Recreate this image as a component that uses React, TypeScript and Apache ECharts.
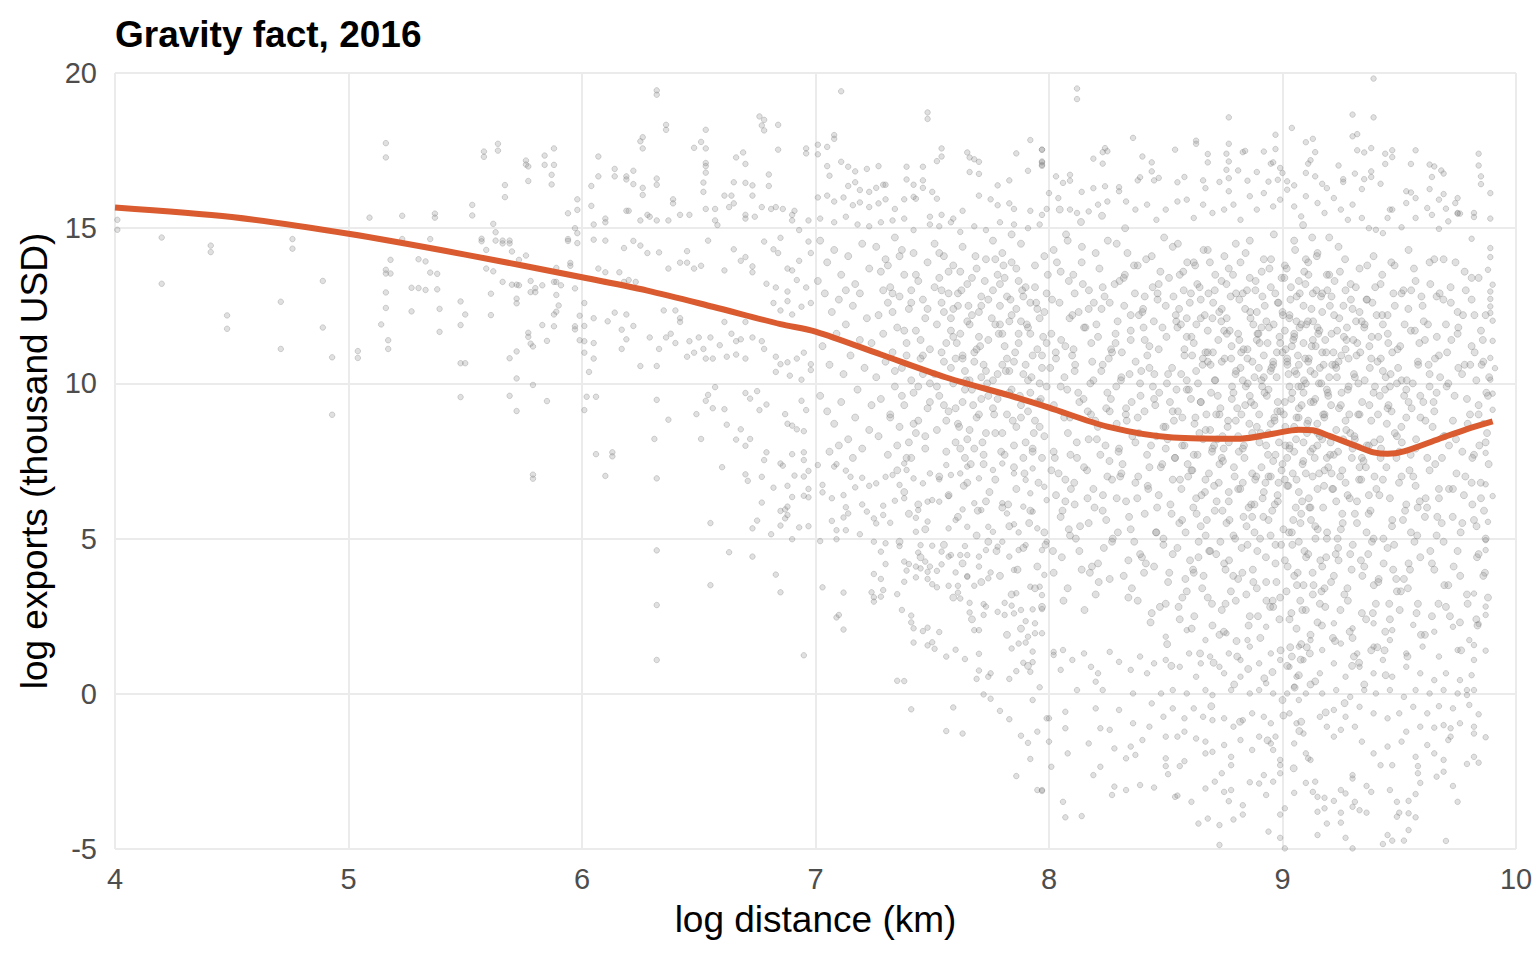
import React, { useEffect, useRef } from "react";
import * as echarts from "echarts";

// ---- data ----
const near4to6: number[][] = [
  [4.01,15.27],[4.01,14.95],[4.20,14.70],[4.20,13.21],[4.41,14.44],[4.41,14.23],[4.48,12.19],[4.48,11.76],[4.71,12.63],[4.71,11.11],[4.76,14.65],[4.76,14.34],[4.89,13.30],[4.89,11.80],[4.93,10.84],[4.93,8.99],[5.04,11.04],[5.04,10.82],[5.09,15.34],[5.14,11.90],[5.16,17.74],[5.16,17.28],[5.16,13.66],[5.16,13.54],[5.18,13.54],[5.18,13.98],[5.16,12.93],[5.16,12.43],[5.17,11.39],[5.17,11.11],[5.23,15.40],[5.23,14.65],[5.27,13.08],[5.27,12.32],[5.30,14.0],[5.30,13.07],[5.33,13.93],[5.33,13.01],[5.35,14.65],[5.35,13.57],[5.37,15.47],[5.37,15.34],[5.38,13.53],[5.38,13.03],[5.39,12.40],[5.39,11.66],[5.48,12.64],[5.48,11.88],[5.48,10.65],[5.50,10.65],[5.48,9.56],[5.50,12.22],[5.53,15.75],[5.53,15.41],[5.57,14.66],[5.57,14.58],[5.58,17.47],[5.58,17.30],[5.59,14.30],[5.59,13.70],[5.61,12.89],[5.61,12.20],[5.62,15.14],[5.63,14.87],[5.62,13.61],[5.63,14.60],[5.64,17.72],[5.64,17.50],[5.66,14.60],[5.66,14.51],[5.69,14.60],[5.69,14.51],[5.66,13.27],[5.67,16.39],[5.67,16.0],[5.69,10.81],[5.69,9.60],[5.70,14.25],[5.70,13.18],[5.72,13.18],[5.73,13.16],[5.72,12.73],[5.72,12.58],[5.72,11.03],[5.72,10.16],[5.72,9.11],[5.73,13.98],[5.76,17.18],[5.76,17.05],[5.77,16.99],[5.77,16.52],[5.76,14.12],[5.77,11.63],[5.77,11.50],[5.78,11.28],[5.79,11.19],[5.78,13.30],[5.78,12.94],[5.80,13.07],[5.80,12.94],[5.79,9.95],[5.79,7.06],[5.79,6.93],[5.83,13.16],[5.83,11.88],[5.84,17.34],[5.84,17.04],[5.85,11.37],[5.85,9.43],[5.87,16.72],[5.87,16.41],[5.88,17.57],[5.88,17.04],[5.88,13.27],[5.89,13.27],[5.88,12.22],[5.89,12.31],[5.90,12.51],[5.89,12.85],[5.88,11.84],[5.89,13.72],[5.91,13.16],[5.94,15.48],[5.94,14.65],[5.94,14.59],[5.95,13.88],[5.95,13.79],[5.97,13.06],[5.97,11.84],[5.97,11.74],[5.97,15.0],[5.98,14.84],[5.98,15.93],[5.98,15.59],[5.98,14.52],[5.99,12.18],[5.99,11.39]
];

const band6to7Upper: number[][] = [
  [6.32,19.44],[6.32,19.30],[6.36,18.33],[6.36,18.17],[6.25,17.80],[6.26,17.93],[6.26,17.57],[6.07,17.31],[6.53,18.17],[6.48,17.59],[6.51,17.78],[6.53,17.57],[6.53,17.10],[6.53,17.0],[6.53,16.79],[6.76,18.60],[6.78,18.49],[6.77,18.31],[6.78,18.15],[6.84,18.33],[6.84,17.53],[6.96,17.57],[6.96,17.41],[6.66,17.28],[6.69,17.44],[6.70,17.07],[6.14,16.91],[6.14,16.67],[6.19,16.67],[6.19,16.57],[6.22,16.85],[6.22,16.42],[6.04,16.36],[6.07,16.67],[6.32,16.60],[6.32,16.40],[6.26,16.30],[6.26,16.07],[6.52,16.47],[6.52,16.17],[6.65,16.48],[6.70,16.46],[6.73,16.38],[6.80,16.73],[6.80,16.36],[6.61,16.05],[6.64,16.05],[6.65,15.80],[6.73,16.05],[6.77,15.68],[6.81,15.62],[6.39,15.93],[6.39,15.80],[6.04,15.72],[6.10,15.31],[6.10,15.19],[6.19,15.56],[6.20,15.56],[6.25,15.25],[6.28,15.43],[6.29,15.37],[6.32,15.25],[6.37,15.25],[6.42,15.43],[6.46,15.43],[6.53,15.62],[6.57,15.62],[6.57,15.25],[6.58,15.10],[6.63,15.68],[6.70,15.43],[6.70,15.31],[6.74,15.37],[6.83,15.68],[6.86,15.62],[6.90,15.43],[6.91,15.56],[6.90,15.25],[6.93,14.94],[6.97,15.25],[6.05,15.12],[6.05,14.63],[6.10,14.60],[6.18,14.36],[6.22,14.59],[6.25,14.44],[6.28,14.20],[6.33,14.22],[6.42,13.89],[6.45,13.89],[6.45,14.26],[6.48,13.70],[6.51,13.79],[6.54,14.60],[6.61,13.64],[6.65,14.32],[6.68,13.95],[6.70,14.07],[6.73,13.77],[6.73,13.58],[6.78,14.57],[6.82,14.32],[6.84,14.20],[6.88,13.70],[6.90,13.64],[6.93,13.95],[6.97,14.57],[6.98,14.20],[6.85,14.69]
];

const band6to7Mid: number[][] = [
  [6.01,12.59],[6.01,11.85],[6.01,11.36],[6.01,10.99],[6.07,13.70],[6.10,13.58],[6.10,13.27],[6.16,13.58],[6.18,13.27],[6.20,13.33],[6.23,13.27],[6.05,12.10],[6.05,11.30],[6.05,10.80],[6.03,10.37],[6.11,12.0],[6.14,12.28],[6.17,11.73],[6.19,12.22],[6.22,11.85],[6.17,11.11],[6.19,11.42],[6.25,10.56],[6.29,11.48],[6.33,11.11],[6.32,10.56],[6.35,12.35],[6.37,13.70],[6.40,12.35],[6.42,12.10],[6.36,11.48],[6.38,11.60],[6.40,11.30],[6.42,11.98],[6.46,11.36],[6.50,11.48],[6.52,11.11],[6.55,11.48],[6.59,11.23],[6.45,10.86],[6.48,10.99],[6.53,10.80],[6.56,10.80],[6.61,11.98],[6.64,11.60],[6.66,11.36],[6.68,11.42],[6.70,11.98],[6.73,11.48],[6.77,11.36],[6.62,10.86],[6.66,10.93],[6.70,10.80],[6.78,11.11],[6.82,12.59],[6.85,12.35],[6.88,12.65],[6.90,12.22],[6.94,12.47],[6.98,12.59],[6.79,13.21],[6.83,13.09],[6.88,12.96],[6.92,13.33],[6.96,13.09],[6.83,10.86],[6.85,10.62],[6.88,10.68],[6.92,10.80],[6.95,10.99],[6.98,10.62],[6.83,10.37],[6.89,10.25],[6.94,10.12],[6.98,10.43],[6.02,9.57],[6.06,9.57],[6.01,9.14],[6.32,9.47],[6.37,8.83],[6.31,8.21],[6.06,7.72],[6.13,7.78],[6.13,7.65],[6.49,9.01],[6.51,8.21],[6.53,9.44],[6.54,9.63],[6.56,9.20],[6.57,9.88],[6.61,9.17],[6.62,8.67],[6.66,8.19],[6.68,8.52],[6.70,7.99],[6.72,8.21],[6.70,9.69],[6.72,9.51],[6.75,9.75],[6.76,9.14],[6.79,9.32],[6.78,7.53],[6.79,7.78],[6.87,9.01],[6.88,8.70],[6.90,8.64],[6.92,8.52],[6.94,9.44],[6.96,9.14],[6.95,8.46],[6.90,7.72],[6.95,7.78],[6.95,7.53]
];

const band6to7Low: number[][] = [
  [6.10,7.02],[6.32,6.94],[6.60,7.30],[6.70,7.07],[6.71,6.86],[6.77,6.99],[6.82,6.64],[6.85,7.42],[6.86,7.35],[6.88,6.70],[6.91,7.03],[6.95,7.0],[6.97,7.18],[6.90,6.34],[6.95,6.38],[6.97,6.33],[6.97,6.60],[6.77,6.16],[6.85,5.89],[6.87,5.94],[6.88,6.03],[6.88,5.76],[6.87,5.65],[6.75,5.58],[6.73,5.33],[6.81,5.14],[6.85,5.42],[6.93,5.36],[6.97,5.40],[6.90,4.98],[6.55,5.50],[6.32,4.62],[6.63,4.56],[6.73,4.42],[6.83,3.84],[6.55,3.50],[6.85,3.27],[6.32,2.86],[6.32,1.09],[6.95,1.24]
];

const band7to8Upper: number[][] = [
  [7.11,19.41],[7.48,18.73],[7.48,18.52],[7.01,17.69],[7.01,17.38],[7.05,17.62],[7.08,18.0],[7.08,17.88],[7.54,17.57],[7.54,17.31],[7.52,17.16],[7.65,17.44],[7.66,17.28],[7.68,17.22],[7.70,17.14],[7.66,16.81],[7.70,16.75],[7.86,17.41],[7.92,17.84],[7.97,17.53],[7.97,17.12],[7.97,17.04],[7.91,16.85],[7.83,16.54],[7.78,16.38],[7.05,17.0],[7.06,16.69],[7.11,17.14],[7.14,16.98],[7.17,16.83],[7.22,16.91],[7.27,17.0],[7.39,16.98],[7.46,16.98],[7.39,16.57],[7.46,16.54],[7.14,16.36],[7.17,16.48],[7.19,16.23],[7.23,16.17],[7.26,16.30],[7.29,16.40],[7.30,16.40],[7.42,16.40],[7.43,15.95],[7.46,16.30],[7.50,16.17],[7.52,15.95],[7.01,15.99],[7.05,16.05],[7.08,15.86],[7.12,15.99],[7.16,15.74],[7.19,15.83],[7.23,15.68],[7.27,15.80],[7.30,15.93],[7.34,15.62],[7.38,15.93],[7.42,16.01],[7.49,15.37],[7.54,15.43],[7.59,15.31],[7.63,15.56],[7.70,16.05],[7.75,15.93],[7.78,15.74],[7.83,15.80],[7.85,15.62],[7.92,15.56],[7.97,15.43],[7.99,15.62],[7.02,15.31],[7.08,15.19],[7.13,15.37],[7.18,15.12],[7.23,15.06],[7.28,15.19],[7.33,15.25],[7.38,15.31],[7.42,14.94],[7.49,15.12],[7.53,15.06],[7.58,15.19],[7.62,14.88],[7.68,15.06],[7.73,14.94],[7.79,15.19],[7.85,15.12],[7.91,15.0],[7.96,15.12]
];

const band7to8Core: number[][] = [
  [7.02,14.6],[7.05,13.9],[7.08,14.3],[7.11,13.5],[7.14,14.1],[7.17,13.2],[7.2,14.5],[7.23,13.7],[7.04,12.9],[7.07,12.3],[7.1,12.7],[7.13,11.9],[7.16,12.5],[7.19,11.4],[7.22,12.1],[7.03,11.2],[7.06,10.6],[7.09,11.6],[7.12,10.3],[7.15,10.9],[7.18,9.8],[7.21,10.5],[7.24,11.3],[7.02,9.6],[7.05,9.1],[7.08,8.7],[7.11,9.4],[7.14,8.2],[7.17,8.9],[7.2,7.9],[7.23,8.5],[7.06,7.8],[7.13,13.0],[7.19,12.9],[7.01,13.3],[7.24,9.3],[7.1,8.0],[7.16,7.6],
  [7.26,14.4],[7.28,13.6],[7.3,14.0],[7.32,13.1],[7.34,14.7],[7.36,12.8],[7.38,13.5],[7.4,12.4],[7.42,14.2],[7.44,13.3],[7.46,12.7],[7.48,13.9],[7.27,12.2],[7.29,11.6],[7.31,12.6],[7.33,11.0],[7.35,11.8],[7.37,10.5],[7.39,11.3],[7.41,10.1],[7.43,11.7],[7.45,10.8],[7.47,12.1],[7.49,11.1],[7.26,10.2],[7.28,9.5],[7.3,10.7],[7.32,9.0],[7.34,9.9],[7.36,8.6],[7.38,9.3],[7.4,8.1],[7.42,9.7],[7.44,8.8],[7.46,10.3],[7.48,9.2],[7.27,8.3],[7.31,7.7],[7.35,8.0],[7.39,7.6],[7.43,8.4],[7.47,7.9],[7.29,13.0],[7.37,14.3],[7.45,11.4],[7.33,12.3],[7.41,13.0],[7.49,10.0],
  [7.51,14.5],[7.53,13.4],[7.55,14.1],[7.57,12.9],[7.59,13.8],[7.61,12.5],[7.63,14.4],[7.65,13.2],[7.67,12.2],[7.69,13.7],[7.71,12.8],[7.73,14.0],[7.52,11.9],[7.54,12.6],[7.56,11.3],[7.58,12.1],[7.6,10.8],[7.62,11.6],[7.64,10.4],[7.66,11.9],[7.68,11.0],[7.7,12.3],[7.72,10.6],[7.74,11.4],[7.51,10.3],[7.53,9.6],[7.55,10.7],[7.57,9.1],[7.59,10.0],[7.61,8.7],[7.63,9.4],[7.65,8.2],[7.67,9.8],[7.69,8.9],[7.71,9.5],[7.73,8.4],[7.52,8.5],[7.56,7.8],[7.6,8.1],[7.64,7.6],[7.68,7.9],[7.72,7.7],[7.54,13.0],[7.58,11.7],[7.62,13.6],[7.66,10.1],[7.7,11.5],[7.74,12.7],[7.55,9.3],[7.63,10.9],[7.71,10.2],[7.59,12.4],
  [7.76,14.6],[7.78,13.5],[7.8,14.2],[7.82,12.8],[7.84,13.9],[7.86,12.4],[7.88,14.5],[7.9,13.1],[7.92,12.6],[7.94,13.8],[7.96,12.1],[7.98,14.1],[7.77,11.9],[7.79,12.5],[7.81,11.2],[7.83,12.0],[7.85,10.7],[7.87,11.6],[7.89,10.3],[7.91,11.8],[7.93,10.9],[7.95,12.4],[7.97,10.5],[7.99,11.3],[7.76,10.1],[7.78,9.5],[7.8,10.6],[7.82,9.0],[7.84,9.8],[7.86,8.6],[7.88,9.3],[7.9,8.1],[7.92,9.7],[7.94,8.8],[7.96,9.4],[7.98,8.3],[7.77,8.4],[7.81,7.7],[7.85,8.0],[7.89,7.6],[7.93,7.9],[7.97,7.6],[7.79,13.2],[7.83,10.4],[7.87,13.3],[7.91,9.1],[7.95,11.1],[7.99,12.9],[7.8,11.6],[7.88,12.0],[7.96,10.0],[7.84,14.8]
];

const band7to8Extra: number[][] = [
  [7.31,13.8],[7.33,12.9],[7.36,14.1],[7.38,11.7],[7.41,12.6],[7.43,13.5],[7.46,10.9],[7.48,12.4],[7.34,10.4],[7.37,9.6],[7.39,10.9],[7.42,8.7],[7.44,9.9],[7.47,8.3],[7.49,9.4],[7.32,8.9],[7.35,7.2],[7.38,6.5],[7.41,7.6],[7.44,6.1],[7.47,5.3],[7.36,4.9],[7.4,5.8],[7.45,4.4],
  [7.51,13.1],[7.53,14.2],[7.55,12.3],[7.57,13.6],[7.59,11.5],[7.61,12.9],[7.63,10.8],[7.65,12.0],[7.67,13.4],[7.69,11.1],[7.71,12.5],[7.73,10.4],[7.52,9.9],[7.54,11.0],[7.56,8.8],[7.58,10.5],[7.6,9.2],[7.62,7.9],[7.64,9.8],[7.66,8.5],[7.68,10.7],[7.7,9.0],[7.72,7.4],[7.74,9.6],[7.53,7.0],[7.57,6.4],[7.61,5.7],[7.65,6.8],[7.69,5.1],[7.73,6.2],[7.55,4.8],[7.63,4.2],[7.71,3.6],[7.59,3.1],[7.67,2.4],[7.74,4.9],
  [7.76,13.0],[7.77,14.0],[7.79,11.9],[7.81,13.4],[7.82,10.8],[7.84,12.2],[7.86,13.7],[7.87,11.3],[7.89,12.8],[7.91,10.1],[7.92,11.6],[7.94,13.1],[7.95,9.4],[7.97,10.9],[7.98,12.3],[7.76,9.2],[7.78,10.3],[7.8,8.4],[7.83,9.7],[7.85,7.3],[7.88,8.9],[7.9,10.6],[7.93,7.8],[7.96,8.6],[7.99,9.9],[7.77,6.9],[7.8,6.0],[7.83,5.4],[7.86,6.6],[7.89,4.7],[7.92,5.9],[7.95,4.1],[7.98,5.2],[7.79,3.8],[7.84,3.2],[7.88,2.1],[7.94,3.4],[7.97,2.8],[7.82,1.9],[7.91,0.9],
  [7.605,11.3],[7.615,8.6],[7.625,13.0],[7.635,6.7],[7.645,10.1],[7.655,12.5],[7.665,7.4],[7.675,9.3],[7.685,14.1],[7.695,5.9],[7.705,11.2],[7.715,8.1],[7.725,13.3],[7.735,10.0],[7.745,6.5],[7.755,12.1],[7.765,9.0],[7.775,4.6],[7.785,11.6],[7.795,7.8],[7.805,13.8],[7.815,10.4],[7.825,6.1],[7.835,12.7],[7.845,8.8],[7.855,11.0],[7.865,4.0],[7.875,9.6],[7.885,13.0],[7.895,7.1],[7.905,11.9],[7.915,5.5],[7.925,10.2],[7.935,8.4],[7.945,12.6],[7.955,6.8],[7.965,9.5],[7.975,11.5],[7.985,4.8],[7.995,13.5]
];

const band7to8Low: number[][] = [
  [7.01,7.37],[7.03,6.73],[7.03,6.49],[7.08,7.32],[7.09,7.40],[7.13,7.19],[7.15,6.99],[7.17,6.65],[7.20,6.96],[7.23,6.70],[7.26,6.78],[7.30,6.99],[7.33,7.05],[7.36,6.73],[7.38,7.42],[7.39,7.21],[7.42,6.94],[7.46,6.78],[7.49,7.10],[7.53,6.91],[7.56,7.37],[7.58,7.05],[7.62,7.10],[7.65,7.32],[7.70,6.94],[7.76,7.21],[7.80,7.42],[7.85,7.10],[7.90,6.89],[7.93,7.26],[7.98,6.67],
  [7.07,6.30],[7.12,6.40],[7.13,6.01],[7.14,5.81],[7.12,5.68],[7.07,5.57],[7.09,5.27],[7.13,5.27],[7.20,6.10],[7.22,5.87],[7.25,5.65],[7.26,5.49],[7.29,5.76],[7.29,6.06],[7.32,5.51],[7.34,6.22],[7.38,6.30],[7.43,5.67],[7.43,5.22],[7.44,5.92],[7.48,6.19],[7.48,5.55],[7.50,6.24],[7.53,6.19],[7.57,6.37],[7.57,5.33],[7.60,5.6],[7.63,5.94],[7.65,5.38],[7.68,6.14],[7.71,5.92],[7.74,5.38],[7.76,5.22],[7.80,6.14],[7.82,5.81],[7.85,5.46],[7.87,5.20],[7.89,6.03],[7.92,6.46],[7.93,5.87],[7.95,5.33],[7.99,6.24],
  [7.02,4.92],[7.09,4.98],[7.19,5.14],[7.25,4.90],[7.28,4.58],[7.30,4.85],[7.36,4.76],[7.45,4.79],[7.44,4.55],[7.50,4.77],[7.54,4.58],[7.58,4.47],[7.62,4.47],[7.64,4.76],[7.65,4.47],[7.70,4.42],[7.73,4.63],[7.78,4.74],[7.80,4.90],[7.83,4.42],[7.87,4.63],[7.90,4.79],[7.97,4.63],[7.99,4.90],
  [7.30,4.18],[7.38,4.26],[7.39,3.97],[7.40,4.18],[7.43,4.10],[7.45,4.04],[7.47,4.26],[7.48,3.93],[7.49,4.10],[7.52,3.96],[7.54,4.17],[7.57,4.42],[7.60,3.91],[7.65,3.79],[7.70,4.10],[7.74,3.72],[7.75,3.91],[7.85,3.99],[7.92,3.45],[7.96,3.45],[7.98,3.83],
  [7.25,3.86],[7.28,3.70],[7.38,3.61],[7.43,3.75],[7.48,3.70],[7.50,3.53],[7.52,3.43],[7.57,3.48],[7.61,3.48],[7.65,3.77],[7.68,3.48],
  [7.03,3.43],[7.12,3.26],[7.24,3.27],[7.25,3.11],[7.25,2.97],[7.28,3.13],[7.29,3.34],[7.35,3.21],[7.61,3.26],[7.62,3.07],[7.66,2.93],[7.66,2.62],[7.72,2.89],[7.72,2.54],[7.73,2.81],[7.78,2.64],[7.81,2.54],[7.81,2.93],[7.84,2.84],[7.85,2.59],[7.86,3.24],[7.88,2.70],[7.93,2.72],[7.94,2.27],[7.97,2.73],[7.97,3.18],
  [7.09,2.46],[7.10,2.54],[7.12,2.07],[7.37,2.70],[7.41,2.52],[7.41,2.30],[7.42,2.11],[7.46,2.02],[7.48,2.13],[7.53,1.99],[7.68,2.05],[7.70,2.05],[7.90,2.34],[7.94,1.95],[7.91,1.84],
  [7.42,1.65],[7.48,1.56],[7.50,1.66],[7.51,1.45],[7.56,1.20],[7.60,1.42],[7.64,1.12],[7.70,1.29],[7.70,0.75],[7.69,0.48],[7.74,0.55],[7.75,0.66],[7.83,0.48],[7.84,1.46],[7.87,1.62],[7.90,1.65],[7.93,1.36],[7.86,0.73],[7.89,1.00],[7.92,0.71],[7.93,1.02],[7.96,0.21],
  [7.35,0.42],[7.38,0.41],[7.72,-0.02],[7.75,-0.16],[7.93,-0.20],[7.41,-0.50],[7.59,-0.44],[7.79,-0.55],[7.83,-0.82],[7.56,-1.20],[7.63,-1.28],[7.88,-1.35],[7.95,-1.22],[7.91,-1.58],[7.92,-2.10],[7.86,-2.65],[7.95,-3.10],[7.97,-3.13],[7.99,-0.79]
];

const band8to10Top: number[][] = [
  [8.12,19.50],[8.12,19.16],[8.77,18.57],[8.36,17.91],[8.63,17.82],[8.63,17.72],[8.77,17.72],[8.97,18.01],[9.04,18.23],[9.39,19.82],[9.39,18.57],[9.30,18.66],[9.30,17.96],[9.32,18.03],[9.10,17.77],[9.13,17.88],[9.14,17.45],[7.97,17.53],[7.97,17.15],[7.97,17.01],[8.24,17.58],[8.23,17.45],[8.25,17.48],[8.19,17.24],[8.23,17.08],[8.40,17.31],[8.44,17.12],[8.44,16.83],[8.54,17.53],[8.68,17.39],[8.68,17.12],[8.76,17.40],[8.77,17.15],[8.76,16.88],[8.83,17.45],[8.84,17.49],[8.92,17.47],[8.97,17.55],[8.95,17.08],[8.96,17.12],[8.81,16.86],[8.89,16.81],[8.99,16.94],[9.0,16.78],[9.32,17.51],[9.35,17.44],[9.38,17.58],[9.44,17.40],[9.47,17.51],[9.47,17.29],[9.57,17.51],[9.55,17.07],[9.63,17.05],[9.65,16.99],[9.84,17.40],[9.84,17.02],[9.44,17.07],[9.24,17.02],[9.12,17.19],[9.11,17.08],[9.38,16.83],[9.38,16.65],[9.31,16.76],[9.35,16.58],[9.42,16.43],[9.68,16.86],[9.69,16.76],[9.64,16.65],[9.85,16.67],[9.85,16.42],[9.89,16.13],
  [8.03,16.67],[8.06,16.46],[8.09,16.72],[8.09,16.53],[8.19,16.29],[8.24,16.35],[8.14,16.17],[8.30,16.32],[8.30,16.19],[8.38,16.54],[8.39,16.64],[8.45,16.54],[8.47,16.62],[8.55,16.48],[8.58,16.65],[8.66,16.54],[8.67,16.29],[8.73,16.49],[8.77,16.61],[8.77,16.19],[8.85,16.53],[8.94,16.50],[8.98,16.56],[9.02,16.51],[9.05,16.38],[9.10,16.78],[9.14,16.67],[9.17,16.43],[9.19,16.29],[9.26,16.58],[9.26,16.49],[9.34,16.26],[9.53,16.19],[9.55,16.15],[9.63,16.26],[9.57,15.97],[9.53,15.81],[9.67,15.92],[9.69,16.10],[9.75,15.97],[9.82,15.49],[9.82,15.36],[9.89,15.31],[9.74,15.81],[9.75,15.49],[9.62,15.65],[9.64,15.43],[9.46,15.60],[9.47,15.60],[9.45,15.33],[9.57,15.33],[9.70,15.63],[9.71,15.22],[9.75,15.47],[9.76,15.47],[9.34,15.33],[9.51,15.03],[9.67,14.98],[9.81,14.66],[9.89,14.36],[9.89,14.07],[9.88,13.66],[9.90,13.18],[9.89,12.96],[9.89,12.72],[9.89,12.48],[9.89,12.27],[9.90,12.02],[9.90,11.37],[9.89,10.82],[9.91,10.49],[9.89,10.12],[9.90,9.67],[9.90,9.15],[9.86,8.72],[9.87,7.76],
  [8.0,16.13],[8.04,15.97],[8.09,15.60],[8.12,15.49],[8.17,15.54],[8.21,15.76],[8.25,15.86],[8.33,15.86],[8.37,15.60],[8.42,15.76],[8.46,15.27],[8.50,15.60],[8.55,15.86],[8.59,15.92],[8.62,15.33],[8.66,15.76],[8.70,15.49],[8.75,15.60],[8.79,15.76],[8.82,15.27],[8.86,16.03],[8.89,15.60],[8.92,16.13],[8.96,15.70],[8.99,15.92],[9.02,16.24],[9.05,15.70],[9.08,15.38],[9.10,16.03],[9.15,15.81],[9.18,15.49],[9.22,15.97],[9.25,15.60],[9.28,15.27],[9.30,15.76],[9.37,15.0],[9.40,14.95],[9.43,14.84]
];

const band8to10Upper: number[][] = [
  [8.02,14.3],[8.05,13.6],[8.08,14.6],[8.11,12.9],[8.14,13.9],[8.17,12.4],[8.2,14.2],[8.23,13.1],[8.26,12.6],[8.29,14.5],[8.32,13.4],[8.35,12.2],[8.38,13.8],[8.41,12.8],[8.44,14.1],[8.47,13.2],[8.5,12.5],[8.53,14.4],[8.56,13.5],[8.59,12.1],[8.62,13.9],[8.65,12.7],[8.68,14.3],[8.71,13.0],[8.74,12.4],[8.77,13.7],[8.8,14.5],[8.83,12.9],[8.86,13.4],[8.89,12.3],[8.92,14.0],[8.95,13.1],[8.98,12.6],[9.01,13.8],[9.03,12.2],[9.05,14.6],[9.07,13.3],[9.09,12.5],[9.11,13.9],[9.13,12.9],[9.15,14.2],[9.17,12.3],[9.19,13.5],[9.21,12.8],[9.24,14.4],[9.27,13.0],[9.3,12.4],[9.33,13.7],[9.36,12.7],[9.39,14.1],[9.42,13.2],[9.45,12.2],[9.48,13.8],[9.51,12.9],[9.54,14.3],[9.57,13.3],[9.6,12.5],[9.63,13.9],[9.66,12.8],[9.69,14.0],[9.72,13.1],[9.75,12.3],[9.78,13.6],[9.81,12.7],[9.84,13.4],[9.87,12.2],[8.1,12.2],[8.4,12.3],[8.7,12.1],[9.0,12.3],[9.1,14.0],[9.2,14.7]
];

const band8to10Core: number[][] = [
  [8.01,11.6],[8.03,10.8],[8.05,9.9],[8.07,11.2],[8.09,8.9],[8.11,10.4],[8.13,9.4],[8.15,11.8],[8.17,8.2],[8.19,10.1],[8.02,7.8],[8.12,7.6],[8.18,9.0],
  [8.21,11.5],[8.23,10.6],[8.25,9.7],[8.27,11.0],[8.29,8.7],[8.31,10.2],[8.33,9.2],[8.35,11.7],[8.37,8.1],[8.39,10.0],[8.22,7.7],[8.3,7.9],[8.38,8.9],[8.26,9.1],
  [8.41,11.4],[8.43,10.5],[8.45,9.5],[8.47,11.1],[8.49,8.6],[8.51,10.3],[8.53,9.1],[8.55,11.8],[8.57,8.0],[8.59,9.8],[8.42,7.7],[8.5,7.9],[8.58,10.9],[8.46,8.3],[8.54,7.6],
  [8.61,11.5],[8.63,10.4],[8.65,9.4],[8.67,11.0],[8.69,8.5],[8.71,10.1],[8.73,9.0],[8.75,11.7],[8.77,8.1],[8.79,9.7],[8.62,7.7],[8.7,7.9],[8.78,10.8],[8.66,8.2],[8.74,7.6],[8.68,10.7],
  [8.81,11.6],[8.82,10.5],[8.84,9.3],[8.85,11.1],[8.87,8.4],[8.88,10.2],[8.9,9.0],[8.91,11.8],[8.93,8.0],[8.94,9.8],[8.96,10.6],[8.97,7.7],[8.99,11.3],[8.83,7.9],[8.86,9.6],[8.92,10.9],[8.95,8.7],[8.98,9.4],[8.89,11.4],[8.8,8.8],
  [9.01,11.7],[9.02,10.8],[9.03,9.9],[9.04,11.2],[9.05,8.6],[9.06,10.3],[9.07,9.2],[9.08,11.9],[9.09,8.1],[9.1,10.0],[9.11,10.7],[9.12,7.8],[9.13,11.4],[9.14,9.5],[9.15,8.4],[9.16,10.5],[9.17,11.0],[9.18,9.0],[9.19,7.6],[9.2,10.2],[9.01,9.4],[9.03,8.0],[9.05,11.5],[9.07,10.6],[9.09,9.7],[9.11,8.8],[9.13,7.9],[9.15,11.8],[9.17,8.2],[9.19,9.8],[9.02,7.6],[9.06,8.9],
  [9.21,11.6],[9.23,10.5],[9.25,9.3],[9.27,11.1],[9.29,8.4],[9.31,10.2],[9.33,9.0],[9.35,11.8],[9.37,8.0],[9.39,9.7],[9.22,7.7],[9.3,7.9],[9.38,10.8],[9.26,8.2],[9.34,7.6],[9.24,10.7],[9.32,11.3],[9.28,9.8],
  [9.41,11.5],[9.43,10.4],[9.45,9.2],[9.47,11.0],[9.49,8.3],[9.51,10.1],[9.53,8.9],[9.55,11.7],[9.57,7.9],[9.59,9.6],[9.42,7.6],[9.5,7.8],[9.58,10.7],[9.46,9.9],[9.54,9.4],
  [9.61,11.4],[9.63,10.3],[9.65,9.1],[9.67,10.9],[9.69,8.3],[9.71,10.0],[9.73,8.8],[9.75,11.6],[9.77,7.8],[9.79,9.5],[9.62,7.6],[9.7,11.9],[9.78,10.6],[9.66,9.7],
  [9.81,11.2],[9.83,10.1],[9.84,9.0],[9.86,10.7],[9.87,8.1],[9.88,9.6],[9.82,7.7],[9.85,11.7]
];

const band8to10Extra: number[][] = [
  [8.013,12.7],[8.021,9.3],[8.034,13.9],[8.041,7.1],[8.052,11.4],[8.058,5.9],[8.066,10.2],[8.073,14.8],[8.081,8.4],[8.088,12.1],[8.094,6.6],[8.099,10.9],[8.017,4.6],[8.046,15.6],[8.062,3.0],[8.078,9.8],[8.085,13.3],[8.092,7.7],[8.029,11.0],[8.07,6.2],
  [8.104,13.5],[8.112,10.6],[8.119,8.1],[8.127,12.3],[8.133,5.4],[8.141,14.4],[8.148,9.5],[8.156,11.8],[8.163,7.2],[8.171,13.0],[8.177,10.0],[8.184,4.1],[8.192,12.6],[8.198,8.8],[8.108,6.8],[8.137,15.2],[8.152,2.7],[8.166,9.1],[8.181,11.3],[8.195,6.0],
  [8.203,11.9],[8.209,8.6],[8.216,13.7],[8.224,10.4],[8.231,6.4],[8.238,12.8],[8.245,9.2],[8.252,14.6],[8.259,7.5],[8.266,11.1],[8.273,5.0],[8.281,13.2],[8.288,9.9],[8.294,12.0],[8.213,3.6],[8.227,15.4],[8.242,8.0],[8.256,10.8],[8.27,6.9],[8.285,11.6],[8.298,7.8],
  [8.302,13.3],[8.308,10.1],[8.315,7.4],[8.322,12.5],[8.329,9.0],[8.336,14.2],[8.343,5.7],[8.35,11.4],[8.357,8.3],[8.364,13.8],[8.371,10.7],[8.378,6.3],[8.385,12.2],[8.392,9.6],[8.398,4.4],[8.312,11.0],[8.326,15.0],[8.34,3.1],[8.354,9.4],[8.368,12.9],[8.382,7.0],[8.395,10.4],[8.333,8.8],
  [8.403,12.4],[8.409,9.1],[8.416,14.0],[8.423,6.7],[8.43,11.2],[8.437,8.0],[8.444,13.1],[8.451,10.3],[8.458,5.2],[8.465,12.7],[8.472,9.7],[8.479,7.3],[8.486,11.8],[8.493,14.7],[8.499,8.6],[8.407,3.9],[8.421,10.9],[8.435,2.3],[8.449,12.0],[8.463,6.0],[8.477,13.6],[8.49,4.8],[8.455,9.3],
  [8.503,11.5],[8.508,8.2],[8.514,13.4],[8.52,6.1],[8.527,10.5],[8.533,12.8],[8.539,7.6],[8.546,9.8],[8.552,14.5],[8.558,5.5],[8.565,11.9],[8.571,8.9],[8.577,13.0],[8.584,3.7],[8.59,10.1],[8.596,7.0],[8.506,1.6],[8.518,9.4],[8.53,4.5],[8.543,12.2],[8.555,2.8],[8.567,6.6],[8.58,11.1],[8.592,13.9],[8.524,0.9],
  [8.603,12.6],[8.608,9.5],[8.614,7.2],[8.62,11.3],[8.626,13.8],[8.632,5.8],[8.638,10.0],[8.644,8.4],[8.65,12.1],[8.656,3.4],[8.662,14.3],[8.668,6.5],[8.674,9.0],[8.68,11.7],[8.686,4.6],[8.692,10.6],[8.698,7.8],[8.611,2.1],[8.623,8.7],[8.635,13.2],[8.647,1.3],[8.659,10.8],[8.671,5.1],[8.683,12.9],[8.695,-0.4],[8.617,4.0],
  [8.702,11.0],[8.707,8.0],[8.712,13.5],[8.718,6.2],[8.723,9.6],[8.729,12.3],[8.734,4.9],[8.74,10.7],[8.745,7.5],[8.751,14.1],[8.756,2.9],[8.762,11.6],[8.767,8.8],[8.773,5.6],[8.778,12.8],[8.784,9.9],[8.789,3.8],[8.795,7.0],[8.799,10.3],[8.705,1.0],[8.716,9.0],[8.727,6.8],[8.738,12.0],[8.749,2.0],[8.76,13.2],[8.771,4.3],[8.782,11.2],[8.793,0.3],[8.743,8.3],
  [8.801,12.9],[8.806,9.2],[8.81,6.6],[8.815,11.4],[8.82,13.9],[8.825,4.7],[8.83,10.1],[8.835,8.0],[8.84,12.4],[8.845,3.2],[8.85,10.8],[8.855,6.0],[8.86,14.6],[8.865,9.4],[8.87,7.1],[8.875,11.9],[8.88,5.2],[8.885,13.3],[8.89,8.6],[8.895,2.5],[8.899,10.5],[8.803,1.7],[8.813,7.8],[8.823,11.0],[8.833,5.7],[8.843,9.9],[8.853,0.8],[8.863,12.1],[8.873,4.0],[8.883,6.9],[8.893,11.6],[8.818,-0.9],[8.848,13.0],
  [8.902,11.3],[8.906,8.4],[8.911,13.6],[8.915,6.3],[8.92,10.2],[8.924,12.5],[8.929,4.4],[8.933,9.6],[8.938,7.7],[8.942,11.8],[8.947,2.8],[8.951,14.0],[8.956,5.9],[8.96,10.7],[8.965,8.9],[8.969,12.9],[8.974,3.6],[8.978,9.1],[8.983,6.8],[8.987,11.5],[8.992,1.4],[8.996,13.4],[8.904,5.0],[8.913,9.9],[8.922,0.5],[8.931,12.0],[8.94,7.0],[8.949,10.4],[8.958,3.0],[8.967,6.1],[8.976,11.0],[8.985,8.1],[8.994,4.8],[8.936,-1.5],[8.963,14.8],
  [9.002,12.2],[9.006,9.0],[9.01,6.9],[9.014,11.1],[9.018,13.7],[9.022,4.1],[9.026,10.3],[9.03,7.9],[9.034,12.7],[9.038,2.6],[9.042,9.7],[9.046,5.6],[9.05,11.6],[9.054,14.3],[9.058,8.2],[9.062,3.5],[9.066,10.9],[9.07,6.5],[9.074,12.9],[9.078,1.1],[9.082,9.3],[9.086,7.4],[9.09,11.3],[9.094,4.6],[9.098,13.2],[9.004,-0.7],[9.012,8.6],[9.02,10.7],[9.028,5.2],[9.036,13.1],[9.044,7.1],[9.052,0.2],[9.06,12.0],[9.068,9.9],[9.076,3.0],[9.084,6.2],[9.092,10.1],[9.048,-2.4],[9.072,-1.2],[9.088,15.1],
  [9.102,11.9],[9.106,8.7],[9.111,13.5],[9.115,6.0],[9.12,10.4],[9.124,12.4],[9.129,3.9],[9.133,9.4],[9.138,7.6],[9.142,11.2],[9.147,14.1],[9.151,5.3],[9.156,10.0],[9.16,8.3],[9.165,12.8],[9.169,2.2],[9.174,9.0],[9.178,6.7],[9.183,11.4],[9.187,4.4],[9.192,13.0],[9.196,7.3],[9.104,1.5],[9.113,10.8],[9.122,5.6],[9.131,12.0],[9.14,0.4],[9.149,8.0],[9.158,11.7],[9.167,3.3],[9.176,10.6],[9.185,-0.6],[9.194,9.7],[9.127,14.7],
  [9.203,12.5],[9.208,9.3],[9.213,6.6],[9.218,11.0],[9.223,13.3],[9.228,4.5],[9.233,10.2],[9.238,7.8],[9.243,12.1],[9.248,2.7],[9.253,9.7],[9.258,5.5],[9.263,11.5],[9.268,14.0],[9.273,8.5],[9.278,3.4],[9.283,10.8],[9.288,6.3],[9.293,12.7],[9.298,0.9],[9.206,8.1],[9.216,1.8],[9.226,10.6],[9.236,5.0],[9.246,13.6],[9.256,7.2],[9.266,-0.3],[9.276,11.8],[9.286,9.0],[9.296,4.0],
  [9.303,11.4],[9.308,8.3],[9.314,13.1],[9.319,6.2],[9.325,10.0],[9.33,12.3],[9.336,4.3],[9.341,9.4],[9.347,7.5],[9.352,11.9],[9.358,2.4],[9.363,13.8],[9.369,5.8],[9.374,10.5],[9.38,8.8],[9.385,12.6],[9.391,3.5],[9.396,9.9],[9.306,1.2],[9.317,10.9],[9.328,6.9],[9.339,12.0],[9.35,0.3],[9.361,8.0],[9.372,11.2],[9.383,4.9],[9.394,7.0],
  [9.403,12.2],[9.409,9.0],[9.415,6.4],[9.421,10.8],[9.427,13.5],[9.433,4.2],[9.439,9.8],[9.445,7.3],[9.451,11.6],[9.457,2.9],[9.463,10.3],[9.469,5.4],[9.475,12.9],[9.481,8.4],[9.487,3.7],[9.493,11.1],[9.499,6.8],[9.406,1.5],[9.418,8.2],[9.43,11.9],[9.442,0.6],[9.454,9.3],[9.466,13.9],[9.478,4.8],[9.49,10.0],
  [9.504,11.2],[9.511,8.1],[9.518,13.0],[9.525,5.9],[9.532,10.1],[9.539,12.4],[9.546,4.0],[9.553,9.2],[9.56,7.0],[9.567,11.7],[9.574,2.6],[9.581,10.6],[9.588,6.2],[9.595,12.8],[9.507,3.3],[9.521,9.6],[9.535,1.2],[9.549,7.7],[9.563,13.7],[9.577,5.1],[9.591,8.9],
  [9.605,12.0],[9.612,8.8],[9.619,6.0],[9.626,10.6],[9.633,13.2],[9.64,4.2],[9.647,9.4],[9.654,7.4],[9.661,11.5],[9.668,2.9],[9.675,10.2],[9.682,5.5],[9.689,12.7],[9.696,8.3],[9.61,1.9],[9.63,9.9],[9.65,14.0],[9.67,6.6],
  [9.705,11.0],[9.713,8.0],[9.721,12.6],[9.729,5.7],[9.737,9.6],[9.745,7.1],[9.753,11.8],[9.761,3.8],[9.769,10.3],[9.777,6.4],[9.785,13.0],[9.793,8.7],[9.717,2.5],[9.741,13.9],[9.765,1.4],
  [9.804,10.6],[9.813,7.6],[9.822,12.2],[9.831,5.4],[9.84,9.3],[9.849,6.8],[9.858,11.4],[9.867,3.9],[9.876,8.4],[9.885,10.2],[9.81,13.4],[9.835,2.2]
];

const band8to10Dense: number[][] = [
  [8.005,10.5],[8.025,7.6],[8.045,12.6],[8.065,8.9],[8.085,5.3],[8.105,11.1],[8.125,9.7],[8.145,13.2],[8.165,6.3],[8.185,10.7],[8.205,8.2],[8.225,12.4],[8.245,5.6],[8.265,9.5],[8.285,11.3],[8.305,7.0],[8.325,13.5],[8.345,10.3],[8.365,4.9],[8.385,8.4],[8.405,11.8],[8.425,6.6],[8.445,9.9],[8.465,12.9],[8.485,7.4],[8.505,10.0],[8.525,5.8],[8.545,12.0],[8.535,8.8],[8.515,3.9],[8.475,2.8],[8.415,4.2],[8.355,3.4],[8.295,5.2],[8.235,4.7],[8.175,3.9],[8.115,5.0],[8.055,4.4],
  [8.552,9.1],[8.557,12.4],[8.561,6.9],[8.566,10.3],[8.571,3.1],[8.575,13.6],[8.58,8.0],[8.585,5.2],[8.59,11.5],[8.594,7.4],[8.599,9.8],[8.604,4.3],[8.608,12.9],[8.613,10.9],[8.618,6.0],[8.622,2.5],[8.627,8.9],[8.631,11.9],[8.636,7.7],[8.641,4.9],[8.645,13.1],[8.65,9.4],
  [8.653,6.4],[8.658,10.6],[8.662,3.8],[8.667,12.2],[8.671,8.5],[8.676,5.6],[8.68,11.0],[8.685,7.1],[8.689,13.9],[8.694,9.7],[8.698,2.9],[8.703,12.6],[8.707,6.7],[8.712,10.1],[8.716,4.5],[8.721,8.2],[8.725,11.4],[8.73,1.9],[8.734,9.2],[8.739,13.3],[8.743,5.9],[8.748,7.9],
  [8.752,10.8],[8.756,4.0],[8.761,12.1],[8.765,8.6],[8.77,6.2],[8.774,11.7],[8.779,3.3],[8.783,9.5],[8.788,13.5],[8.792,7.3],[8.797,5.0],[8.801,10.4],[8.806,1.2],[8.81,8.3],[8.815,12.7],[8.819,6.6],[8.824,9.0],[8.828,3.9],[8.833,11.1],[8.837,7.6],[8.842,14.2],[8.846,5.4],[8.851,10.0],[8.855,2.2],
  [8.858,8.7],[8.862,12.3],[8.866,6.1],[8.871,10.7],[8.875,3.6],[8.879,9.3],[8.884,13.0],[8.888,7.0],[8.892,4.6],[8.897,11.6],[8.901,8.1],[8.905,1.8],[8.91,10.1],[8.914,12.8],[8.918,5.7],[8.923,9.7],[8.927,6.8],[8.931,3.0],[8.936,11.3],[8.94,8.4],[8.944,13.7],[8.949,5.1],[8.953,10.5],[8.957,0.7],[8.96,7.5],
  [8.962,11.9],[8.966,8.8],[8.97,4.2],[8.975,10.2],[8.979,6.4],[8.983,12.6],[8.987,2.4],[8.991,9.1],[8.996,7.2],[9.0,11.0],[9.004,5.3],[9.008,13.4],[9.012,8.0],[9.017,3.3],[9.021,10.6],[9.025,6.7],[9.029,12.1],[9.033,1.5],[9.038,9.5],[9.042,4.8],[9.046,11.4],[9.05,7.8],[9.0,-0.2],[9.02,0.9],
  [9.053,10.4],[9.057,6.0],[9.061,12.8],[9.065,3.9],[9.069,8.9],[9.073,11.8],[9.077,5.5],[9.081,9.9],[9.085,2.7],[9.089,7.5],[9.093,13.6],[9.097,10.8],[9.101,4.4],[9.105,8.4],[9.109,12.0],[9.113,6.3],[9.117,1.3],[9.121,9.4],[9.125,11.2],[9.129,7.0],[9.133,3.5],[9.137,10.3],[9.141,5.0],[9.145,13.0],[9.149,8.7],[9.08,-0.9],[9.12,0.3],
  [9.153,11.6],[9.157,7.1],[9.162,4.3],[9.166,10.0],[9.17,12.9],[9.174,6.0],[9.179,8.9],[9.183,2.8],[9.187,11.0],[9.191,5.2],[9.196,9.6],[9.2,13.5],[9.204,7.7],[9.208,3.6],[9.213,10.6],[9.217,6.6],[9.221,12.2],[9.225,1.7],[9.23,8.5],[9.234,11.7],[9.238,4.7],[9.242,9.2],[9.247,7.0],
  [9.252,10.9],[9.256,5.8],[9.261,12.5],[9.265,3.2],[9.27,8.8],[9.274,11.4],[9.279,6.4],[9.283,9.9],[9.288,2.0],[9.292,13.2],[9.297,7.6],[9.301,4.8],[9.306,10.3],[9.31,8.2],[9.315,12.0],[9.319,5.5],[9.324,9.0],[9.328,1.0],[9.333,11.0],[9.337,6.9],[9.342,3.8],
  [9.352,10.1],[9.357,7.3],[9.362,12.7],[9.367,4.5],[9.372,9.3],[9.377,5.9],[9.382,11.5],[9.387,2.6],[9.392,8.1],[9.397,13.1],[9.402,6.6],[9.407,10.7],[9.412,3.7],[9.417,9.6],[9.422,7.9],[9.427,12.2],[9.432,5.0],[9.437,1.4],[9.442,10.2],[9.447,8.7],
  [9.453,11.3],[9.46,6.3],[9.467,9.1],[9.474,4.0],[9.481,12.5],[9.488,7.6],[9.495,10.5],[9.502,2.7],[9.509,8.6],[9.516,5.6],[9.523,11.9],[9.53,9.8],[9.537,3.4],[9.544,7.2],[9.551,13.0],[9.558,10.0],[9.565,4.9],[9.572,8.2],[9.579,6.0],[9.586,11.3],[9.593,1.9],
  [9.603,9.4],[9.613,6.3],[9.623,11.9],[9.633,4.6],[9.643,8.6],[9.653,10.8],[9.663,5.7],[9.673,12.9],[9.683,7.6],[9.693,3.5],[9.703,9.9],[9.713,6.6],[9.723,11.4],[9.733,4.1],[9.743,8.2],[9.753,10.5],[9.763,5.2],[9.773,12.2],[9.783,7.0],[9.793,2.9],[9.803,9.0],[9.813,6.1],[9.823,11.0],[9.833,4.4],[9.843,8.0],[9.853,10.6],[9.863,5.9],[9.873,9.7],[9.883,7.4]
];

const band8to10Mid: number[][] = [
  [8.01,7.2],[8.03,6.4],[8.05,5.7],[8.07,6.9],[8.09,5.1],[8.11,6.1],[8.13,4.6],[8.15,7.3],[8.17,5.5],[8.19,6.6],[8.21,4.2],[8.23,5.9],[8.25,7.0],[8.27,4.9],[8.29,6.3],[8.02,3.9],[8.08,3.4],[8.14,4.0],[8.2,3.2],[8.26,3.7],
  [8.31,7.1],[8.33,6.2],[8.35,5.3],[8.37,6.8],[8.39,4.5],[8.41,5.8],[8.43,7.3],[8.45,4.1],[8.47,6.4],[8.49,5.0],[8.51,3.6],[8.53,6.9],[8.55,4.7],[8.57,5.6],[8.59,3.3],[8.32,3.8],[8.38,3.0],[8.44,2.6],[8.5,2.9],[8.56,2.4],[8.34,4.3],[8.46,5.2],
  [8.61,7.2],[8.63,6.3],[8.65,5.4],[8.67,6.9],[8.69,4.6],[8.71,5.9],[8.73,7.4],[8.75,4.2],[8.77,6.5],[8.79,5.1],[8.81,3.7],[8.83,6.8],[8.85,4.8],[8.87,5.7],[8.89,3.4],[8.62,3.9],[8.68,3.1],[8.74,2.7],[8.8,3.0],[8.86,2.5],[8.64,4.4],[8.76,5.5],[8.88,6.1],[8.7,2.2],
  [8.91,7.3],[8.92,6.5],[8.94,5.6],[8.95,7.0],[8.97,4.8],[8.98,6.2],[9.0,7.4],[9.01,4.3],[9.02,6.7],[9.04,5.2],[9.05,3.8],[9.06,6.9],[9.07,4.9],[9.08,5.8],[9.09,3.5],[9.1,7.1],[9.11,4.5],[9.12,6.0],[9.13,3.2],[9.14,5.4],[9.15,6.6],[9.16,2.9],[9.17,4.1],[9.18,7.2],[9.19,5.0],[8.93,3.6],[8.96,2.8],[8.99,3.1],[9.03,2.4],[9.06,2.1],[9.08,1.6],[9.1,2.7],[9.12,1.9],[9.15,2.3],[9.18,3.4],[9.04,1.2],[9.07,0.6],
  [9.21,7.1],[9.23,6.2],[9.25,5.3],[9.27,6.8],[9.29,4.5],[9.31,5.8],[9.33,7.3],[9.35,4.1],[9.37,6.4],[9.39,5.0],[9.41,3.6],[9.43,6.9],[9.45,4.7],[9.47,5.6],[9.49,3.3],[9.22,3.8],[9.28,3.0],[9.34,2.6],[9.4,2.9],[9.46,2.4],[9.24,4.3],[9.36,5.2],[9.3,1.8],[9.38,1.4],[9.44,2.0],
  [9.51,7.0],[9.53,6.1],[9.55,5.2],[9.57,6.7],[9.59,4.4],[9.61,5.7],[9.63,7.2],[9.65,4.0],[9.67,6.3],[9.69,4.9],[9.71,3.5],[9.73,6.6],[9.75,4.6],[9.77,5.5],[9.79,3.2],[9.52,3.7],[9.58,2.9],[9.64,2.5],[9.7,2.8],[9.76,2.3],[9.54,4.2],[9.66,5.1],
  [9.81,6.8],[9.82,5.6],[9.84,4.5],[9.85,6.3],[9.86,3.8],[9.87,5.0],[9.88,3.1],[9.83,2.4]
];

const band8to10Low: number[][] = [
  [7.97,1.95],[8.02,1.35],[8.02,1.25],[8.06,1.41],[8.05,0.77],[8.10,1.09],[8.15,1.30],[8.18,0.87],[8.21,0.66],[8.23,0.12],[8.12,0.12],[8.20,0.39],[8.26,1.35],[8.30,1.03],[8.35,0.77],[8.39,1.20],[8.42,0.66],[8.45,0.98],[8.36,0.01],
  [8.0,-1.54],[8.01,-2.35],[8.08,-1.92],[8.07,-0.58],[8.07,-1.11],[8.0,-0.79],[7.97,-3.10],[8.06,-3.48],[8.07,-3.98],[8.14,-3.94],[8.17,-1.60],[8.19,-2.62],[8.22,-2.35],[8.27,-3.26],[8.28,-2.99],[8.28,-1.76],[8.33,-2.08],[8.33,-3.10],[8.35,-1.70],[8.37,-1.97],[8.39,-2.94],[8.40,-1.49],[8.45,-3.02],[8.20,-0.47],[8.22,-1.11],[8.26,-1.16],[8.30,-0.52],[8.36,-0.95],[8.43,-1.06],[8.44,-0.31],
  [8.50,-2.08],[8.50,-2.33],[8.51,-2.59],[8.54,-3.32],[8.55,-3.28],[8.56,-2.33],[8.58,-2.17],[8.61,-3.48],[8.64,-4.18],[8.67,-3.05],[8.67,-1.92],[8.68,-4.02],[8.71,-2.83],[8.73,-4.23],[8.74,-2.56],[8.75,-3.16],[8.77,-3.46],[8.78,-3.10],[8.78,-2.30],[8.79,-4.05],[8.73,-4.87],[8.83,-3.59],[8.83,-3.89],[8.86,-2.85],[8.90,-2.89],[8.92,-2.62],[8.94,-4.44],[8.93,-3.26],[8.96,-2.83],[8.99,-4.64],[8.99,-3.89],[8.99,-2.56],[8.99,-2.30],[9.01,-3.69],[9.01,-4.98],
  [8.50,-1.38],[8.55,-1.38],[8.58,-1.22],[8.63,-1.44],[8.67,-1.54],[8.70,-1.87],[8.75,-1.65],[8.78,-2.03],[8.82,-1.49],[8.87,-1.81],[8.90,-1.38],[8.95,-1.60],[8.96,-1.81],[8.97,-1.38],[8.99,-2.13],
  [8.49,-0.74],[8.53,-0.47],[8.58,-0.79],[8.62,-0.47],[8.66,-0.74],[8.70,-0.85],[8.75,-0.79],[8.79,-1.06],[8.83,-0.85],[8.87,-0.63],[8.92,-0.74],[8.95,-0.95],
  [8.48,0.01],[8.53,0.12],[8.59,0.01],[8.63,0.55],[8.67,0.12],[8.70,-0.04],[8.75,0.66],[8.78,0.12],[8.82,0.55],[8.86,0.01],[8.90,0.12],[8.93,0.34],[8.96,0.01],
  [8.50,1.09],[8.56,0.87],[8.60,1.30],[8.65,0.98],[8.69,1.20],[8.73,0.87],[8.77,1.30],[8.82,1.09],[8.86,1.52],[8.90,0.98],[8.95,1.30],[8.99,1.09],
  [8.50,1.84],[8.59,2.05],[8.67,1.73],[8.76,1.95],[8.85,1.73],[8.93,2.16],
  [9.02,0.01],[9.05,0.23],[9.07,-0.20],[9.10,0.01],[9.06,0.55],[9.03,0.87],[9.09,1.09],[9.07,1.52],[9.12,1.73],
  [9.03,-0.63],[9.06,-0.95],[9.09,-1.28],[9.05,-1.60],[9.10,-1.92],[9.12,-2.13],[9.11,-2.08],[9.05,-3.19],[9.10,-2.87],[9.14,-2.83],[9.13,-3.16],[9.15,-3.32],[9.18,-3.35],[9.15,-3.80],[9.18,-3.69],[9.19,-4.18],[9.15,-4.55],[9.25,-4.15],[9.25,-3.83],[9.27,-4.64],[9.30,-4.98],[9.22,-3.45],[9.25,-3.10],[9.27,-3.21],[9.30,-3.64],[9.33,-3.75],[9.36,-3.83],[9.31,-3.48],[9.30,-2.73],[9.30,-2.62],[9.36,-2.97],[9.38,-3.16],[9.43,-4.84],[9.45,-4.55],[9.47,-4.73],[9.46,-3.10],[9.49,-3.48],[9.49,-3.96],[9.50,-3.83],[9.52,-4.73],[9.54,-3.45],[9.54,-3.85],[9.54,-4.39],[9.57,-3.98],[9.57,-3.23],[9.59,-2.87],[9.58,-2.56],[9.57,-2.03],[9.58,-2.33],[9.66,-2.67],[9.69,-2.51],[9.70,-4.74],[9.73,-2.97],[9.75,-3.48],[9.79,-2.26],[9.82,-2.03],[9.84,-2.22],[9.65,-1.92],[9.62,-1.65],[9.69,-2.13],[9.71,-1.49],[9.72,-1.38],[9.87,-1.40],[9.82,-1.28],[9.82,-1.06],[9.76,-0.95],[9.69,-1.01],[9.72,-1.11],[9.65,-1.09],[9.59,-1.06],[9.53,-1.22],[9.51,-1.54],[9.47,-2.30],[9.45,-1.70],[9.42,-2.30],[9.39,-1.92],[9.34,-1.54],[9.31,-1.06],[9.25,-1.16],[9.22,-1.38],[9.19,-1.06],[9.16,-0.74],[9.22,-0.52],[9.27,-0.74],[9.33,-0.42],[9.39,-0.63],[9.45,-0.79],[9.50,-0.63],[9.56,-0.42],[9.62,-0.63],[9.67,-0.40],[9.73,-0.47],[9.80,-0.36],[9.84,-0.66],
  [9.17,0.01],[9.23,0.12],[9.29,-0.10],[9.35,0.12],[9.40,0.01],[9.46,0.12],[9.52,-0.10],[9.57,0.12],[9.63,0.01],[9.69,0.12],[9.75,0.01],[9.79,-0.04],[9.82,0.12],
  [9.16,0.66],[9.22,0.98],[9.27,0.55],[9.33,0.87],[9.39,0.66],[9.43,1.09],[9.47,0.55],[9.53,0.87],[9.59,0.66],[9.65,0.44],[9.70,0.66],[9.76,0.44],[9.81,0.60],[9.79,0.12],
  [9.17,1.41],[9.25,1.62],[9.32,1.30],[9.39,1.52],[9.46,1.73],[9.53,1.30],[9.60,1.52],[9.67,1.20],[9.75,1.41],[9.82,1.09],[9.82,1.57],[9.87,1.39],
  [9.22,2.27],[9.30,2.11],[9.39,2.27],[9.47,2.05],[9.56,2.22],[9.65,2.00],[9.73,2.16],[9.80,1.73],[9.84,2.25],[9.87,2.81],[9.87,2.54],[9.82,3.23],[9.87,4.63],[9.87,4.95],[9.90,6.37],[9.87,6.75],[9.88,5.54]
];

// loess fit
const smoothX: number[] = [4.0,4.5,5.0,5.5,6.0,6.28,6.56,6.85,7.0,7.28,7.56,7.85,8.0,8.25,8.53,8.82,8.96,9.07,9.13,9.2,9.32,9.39,9.45,9.52,9.67,9.79,9.9];
const smoothY: number[] = [15.67,15.36,14.82,14.15,13.42,12.99,12.47,11.91,11.67,10.93,10.19,9.57,9.22,8.61,8.26,8.22,8.38,8.51,8.49,8.31,7.97,7.78,7.73,7.81,8.21,8.53,8.78];

const titleText = "Gravity fact, 2016";
const xName = "log distance (km)";
const yName = "log exports (thousand USD)";

const FONT = "'Liberation Sans', Arial, Helvetica, sans-serif";

export default function App() {
  const ref = useRef<HTMLDivElement>(null);
  useEffect(() => {
    if (!ref.current) return;
    const chart = echarts.init(ref.current, undefined, { renderer: "svg" });
    const sparsePoints = [
      ...near4to6, ...band6to7Upper, ...band6to7Mid, ...band6to7Low,
      ...band7to8Upper, ...band7to8Low, ...band8to10Top, ...band8to10Low,
    ];
    const densePoints = [
      ...band7to8Core, ...band7to8Extra, ...band8to10Upper, ...band8to10Core,
      ...band8to10Extra, ...band8to10Dense, ...band8to10Mid,
    ];
    const fit = smoothX.map((x, i) => [x, smoothY[i]]);
    const pointStyle = {
      color: "rgba(140,140,140,0.34)",
      borderColor: "rgba(112,112,112,0.5)",
      borderWidth: 0.7,
    };
    chart.setOption({
      animation: false,
      backgroundColor: "#ffffff",
      title: {
        text: titleText,
        left: 115,
        top: 16,
        padding: 0,
        textStyle: { fontFamily: FONT, fontSize: 37, fontWeight: "bold", color: "#000000" },
      },
      grid: { left: 115, right: 20, top: 73, bottom: 111, containLabel: false },
      xAxis: {
        type: "value",
        min: 4,
        max: 10,
        interval: 1,
        name: xName,
        nameLocation: "middle",
        nameGap: 52,
        nameTextStyle: { fontFamily: FONT, fontSize: 37, color: "#000000" },
        axisLine: { show: false },
        axisTick: { show: false },
        axisLabel: { fontFamily: FONT, fontSize: 29, color: "#4D4D4D", margin: 15 },
        splitLine: { show: true, lineStyle: { color: "#EBEBEB", width: 2 } },
      },
      yAxis: {
        type: "value",
        min: -5,
        max: 20,
        interval: 5,
        name: yName,
        nameLocation: "middle",
        nameGap: 62,
        nameTextStyle: { fontFamily: FONT, fontSize: 37, color: "#000000" },
        axisLine: { show: false },
        axisTick: { show: false },
        axisLabel: { fontFamily: FONT, fontSize: 29, color: "#4D4D4D", margin: 18 },
        splitLine: { show: true, lineStyle: { color: "#EBEBEB", width: 2 } },
      },
      series: [
        {
          type: "scatter",
          data: sparsePoints,
          symbol: "circle",
          symbolSize: 5.5,
          itemStyle: pointStyle,
          z: 2,
        },
        {
          type: "scatter",
          data: densePoints,
          symbol: "circle",
          symbolSize: 7,
          itemStyle: pointStyle,
          z: 2,
        },
        {
          type: "line",
          data: fit,
          smooth: 0.3,
          showSymbol: false,
          symbol: "none",
          lineStyle: { color: "#D95B2F", width: 6 },
          z: 5,
        },
      ],
    });
    return () => chart.dispose();
  }, []);
  return (
    <div
      ref={ref}
      style={{ position: "fixed", left: 0, top: 0, width: "1536px", height: "960px" }}
    />
  );
}
